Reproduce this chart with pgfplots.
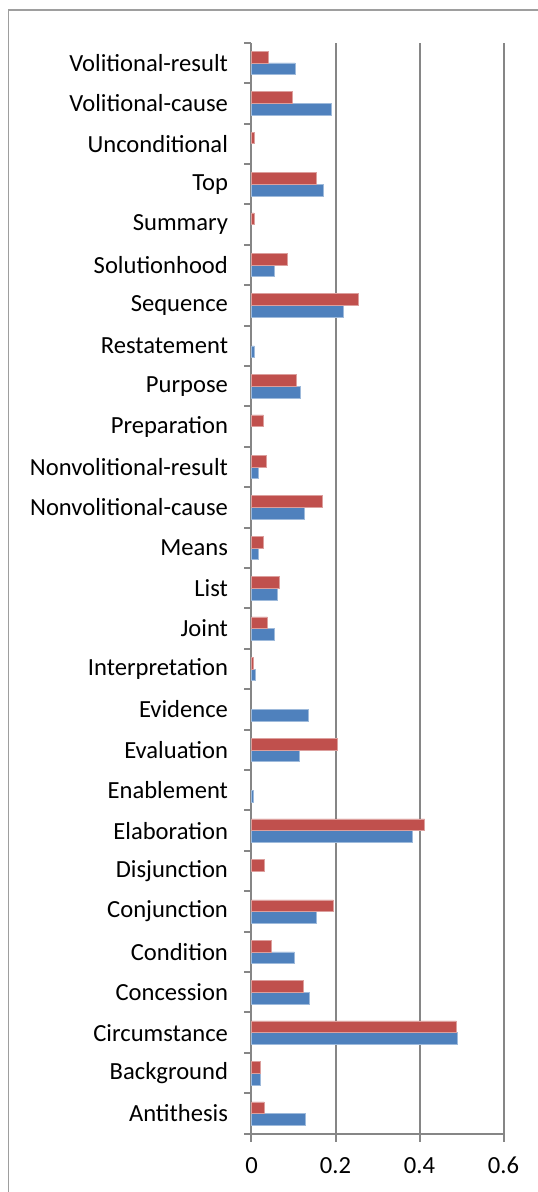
\documentclass[border=0pt]{standalone}
\usepackage{fontspec}
\setmainfont{Carlito}
\usepackage{pgfplots}
\pgfplotsset{compat=1.18}
\definecolor{xlblue}{HTML}{4F81BD}
\definecolor{xlred}{HTML}{C0504D}
\definecolor{gridgray}{HTML}{868686}
\begin{document}
\begin{tikzpicture}[x=1pt,y=1pt]
\useasboundingbox (0,0) rectangle (538,1192);
\draw[gridgray!80, line width=1.5pt] (8.5,-5) -- (8.5,1182) -- (545,1182);
\begin{axis}[
  at={(251.5pt,58.3pt)}, anchor=south west,
  scale only axis, width=252pt, height=1091pt,
  xmin=0, xmax=0.6, ymin=-0.5, ymax=26.5,
  axis x line*=bottom, axis y line*=left,
  axis line style={gridgray, line width=2pt, -},
  xtick={0,0.2,0.4,0.6},
  xticklabels={0,0.2,0.4,0.6},
  xmajorgrids=true,
  grid style={gridgray, line width=2pt},
  ytick={0,...,26},
  yticklabels={Antithesis,Background,Circumstance,Concession,Condition,Conjunction,Disjunction,Elaboration,Enablement,Evaluation,Evidence,Interpretation,Joint,List,Means,Nonvolitional-cause,Nonvolitional-result,Preparation,Purpose,Restatement,Sequence,Solutionhood,Summary,Top,Unconditional,Volitional-cause,Volitional-result},
  minor ytick={-0.5,0.5,...,26.5},
  tick align=outside,
  major tick length=8pt, minor tick length=7pt,
  every major y tick/.style={draw=none},
  every minor y tick/.style={gridgray, line width=2pt},
  every major x tick/.style={gridgray, line width=2pt},
  tick label style={font=\fontsize{24.6}{29}\selectfont, text=black},
  /pgf/number format/assume math mode=true,
  yticklabel style={xshift=-12pt},
  xticklabel style={yshift=-12pt},
  xbar, bar width=11.7pt,
  clip=false,
]
\addplot[fill=xlblue, draw=xlblue!55!white, line width=0.5pt, bar shift=-5.85pt] coordinates {
(0.127,0) (0.021,1) (0.491,2) (0.137,3) (0.102,4) (0.154,5)
(0.383,7) (0.005,8) (0.113,9) (0.134,10) (0.010,11) (0.054,12)
(0.061,13) (0.016,14) (0.125,15) (0.017,16) (0.116,18) (0.007,19)
(0.218,20) (0.055,21) (0.172,23) (0.190,25) (0.104,26)
};
\addplot[fill=xlred, draw=xlred!55!white, line width=0.5pt, bar shift=5.85pt] coordinates {
(0.030,0) (0.021,1) (0.488,2) (0.123,3) (0.047,4) (0.195,5) (0.030,6)
(0.412,7) (0.205,9) (0.005,11) (0.038,12)
(0.065,13) (0.027,14) (0.169,15) (0.034,16) (0.028,17) (0.107,18)
(0.255,20) (0.085,21) (0.006,22) (0.153,23) (0.006,24) (0.097,25) (0.041,26)
};
\end{axis}
\end{tikzpicture}
\end{document}
